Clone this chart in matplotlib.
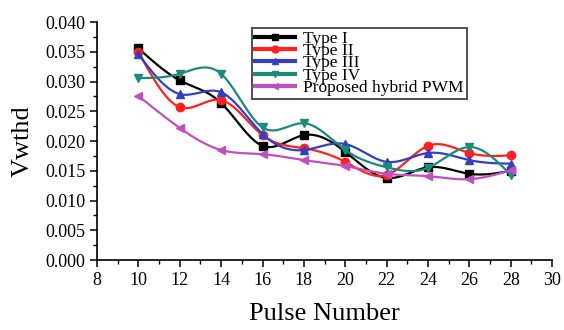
import numpy as np
import matplotlib
matplotlib.use('Agg')
import matplotlib.pyplot as plt
from matplotlib.ticker import MultipleLocator, FormatStrFormatter


pulses = [10, 12, 14, 16, 18, 20, 22, 24, 26, 28]
type_1 = [0.0356, 0.0302, 0.0264, 0.0192, 0.0210, 0.0182, 0.0138, 0.0156, 0.0145, 0.0150]
type_2 = [0.0350, 0.0257, 0.0269, 0.0210, 0.0188, 0.0165, 0.0143, 0.0192, 0.0180, 0.0176]
type_3 = [0.0346, 0.0279, 0.0282, 0.0212, 0.0185, 0.0195, 0.0165, 0.0180, 0.0168, 0.0162]
type_4 = [0.0306, 0.0313, 0.0313, 0.0223, 0.0230, 0.0185, 0.0156, 0.0155, 0.0190, 0.0143]
hybrid = [0.0276, 0.0222, 0.0185, 0.0178, 0.0168, 0.0158, 0.0145, 0.0141, 0.0136, 0.0151]

labels = ['Type I', 'Type II', 'Type III', 'Type IV', 'Proposed hybrid PWM']
colors = ['#000000', '#ff2020', '#3040c0', '#1a8a7a', '#c050c0']
markers = ['s', 'o', '^', 'v', '<']


def spline(x, y, n=200):
    # natural cubic spline through the points, for the smoothed line
    x = np.asarray(x, float)
    y = np.asarray(y, float)
    k = len(x)
    h = np.diff(x)
    A = np.zeros((k, k))
    b = np.zeros(k)
    A[0, 0] = A[-1, -1] = 1
    for i in range(1, k - 1):
        A[i, i - 1] = h[i - 1]
        A[i, i] = 2 * (h[i - 1] + h[i])
        A[i, i + 1] = h[i]
        b[i] = 6 * ((y[i + 1] - y[i]) / h[i] - (y[i] - y[i - 1]) / h[i - 1])
    m = np.linalg.solve(A, b)
    xs = np.linspace(x[0], x[-1], n)
    idx = np.clip(np.searchsorted(x, xs) - 1, 0, k - 2)
    x0, x1 = x[idx], x[idx + 1]
    hh = x1 - x0
    t0 = x1 - xs
    t1 = xs - x0
    ys = (m[idx] * t0**3 + m[idx + 1] * t1**3) / (6 * hh) \
        + (y[idx] / hh - m[idx] * hh / 6) * t0 \
        + (y[idx + 1] / hh - m[idx + 1] * hh / 6) * t1
    return xs, ys


plt.rcParams['font.family'] = ['Liberation Serif', 'DejaVu Serif']

fig = plt.figure(figsize=(5.64, 3.30), dpi=100)
ax = fig.add_axes([0.172, 0.212, 0.807, 0.721])

for ys, lab, c, mk in zip([type_1, type_2, type_3, type_4, hybrid], labels, colors, markers):
    sx, sy = spline(pulses, ys)
    ax.plot(sx, sy, color=c, lw=1.6)
    ax.plot(pulses, ys, ls='none', marker=mk, color=c, ms=6)
    # legend handle: thicker line, smaller marker
    ax.plot([], [], color=c, lw=3, marker=mk, ms=5, label=lab)

ax.set_xlim(8, 30)
ax.set_ylim(0, 0.040)
ax.xaxis.set_major_locator(MultipleLocator(2))
ax.xaxis.set_minor_locator(MultipleLocator(1))
ax.yaxis.set_major_locator(MultipleLocator(0.005))
ax.yaxis.set_minor_locator(MultipleLocator(0.0025))
ax.yaxis.set_major_formatter(FormatStrFormatter('%.3f'))

for s in ['top', 'right']:
    ax.spines[s].set_visible(False)
for s in ['left', 'bottom']:
    ax.spines[s].set_linewidth(1.2)

ax.tick_params(which='major', direction='out', length=5, width=1.1, labelsize=13)
ax.tick_params(which='minor', direction='out', length=3, width=1.0)

ax.set_xlabel('Pulse Number', fontsize=19, labelpad=10)
ax.set_ylabel('Vwthd', fontsize=19, labelpad=8)

leg = ax.legend(loc='upper left', bbox_to_anchor=(0.341, 0.975), fontsize=12.5,
                frameon=True, fancybox=False, edgecolor='#222222',
                labelspacing=-0.22, handlelength=2.3, handletextpad=0.5,
                borderpad=0.15, borderaxespad=0)
leg.get_frame().set_linewidth(1.4)

fig.savefig('out.png', dpi=100)
